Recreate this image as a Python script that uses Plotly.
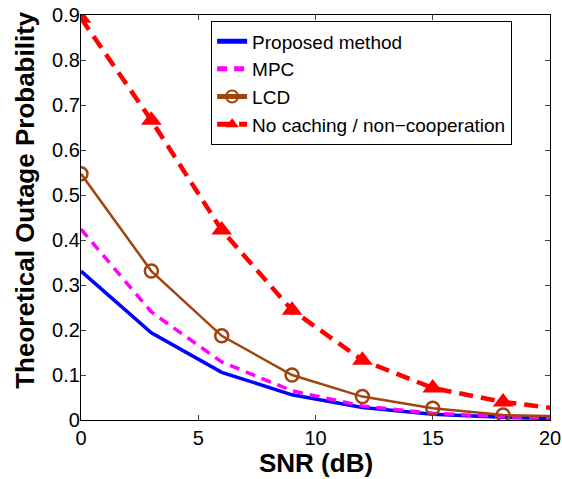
import plotly.graph_objects as go

snr = [0, 3, 6, 9, 12, 15, 18, 21]
proposed = [0.331, 0.194, 0.106, 0.056, 0.028, 0.013, 0.006, 0.002]
mpc = [0.424, 0.240, 0.129, 0.065, 0.031, 0.015, 0.007, 0.003]
lcd = [0.547, 0.331, 0.187, 0.100, 0.052, 0.026, 0.011, 0.008]
nocache = [0.893, 0.666, 0.422, 0.244, 0.133, 0.071, 0.040, 0.021]

x_ticks = [0, 5, 10, 15, 20]
y_ticks = [0, 0.1, 0.2, 0.3, 0.4, 0.5, 0.6, 0.7, 0.8, 0.9]
y_tick_text = ["0", "0.1", "0.2", "0.3", "0.4", "0.5", "0.6", "0.7", "0.8", "0.9"]

BLUE = "#0000FF"
MAG = "#FF00FF"
BROWN = "#A0450F"
RED = "#FF0000"
FONT = "Liberation Sans, Arial, Helvetica, sans-serif"

fig = go.Figure()
fig.add_trace(go.Scatter(x=snr, y=proposed, mode="lines", name="Proposed method",
                         line=dict(color=BLUE, width=3.5)))
fig.add_trace(go.Scatter(x=snr, y=mpc, mode="lines", name="MPC",
                         line=dict(color=MAG, width=3.5, dash="10px,7px")))
fig.add_trace(go.Scatter(x=snr, y=lcd, mode="lines+markers", name="LCD",
                         line=dict(color=BROWN, width=2.5),
                         marker=dict(symbol="circle-open", size=13, color=BROWN,
                                     line=dict(width=2.5, color=BROWN))))
fig.add_trace(go.Scatter(x=snr, y=nocache, mode="lines+markers",
                         name="No caching / non\u2212cooperation",
                         line=dict(color=RED, width=4.5, dash="14px,8px"),
                         marker=dict(symbol="triangle-up", size=18, color=RED)))

fig.update_layout(
    width=562, height=479,
    margin=dict(l=81, r=12, t=15, b=59, autoexpand=False),
    paper_bgcolor="white", plot_bgcolor="white",
    font=dict(family=FONT, size=20, color="black"),
    showlegend=True,
    legend=dict(x=0.277, y=0.985, xanchor="left", yanchor="top",
                bgcolor="white", bordercolor="black", borderwidth=1.2,
                font=dict(size=19), tracegroupgap=0, itemsizing="constant"),
    annotations=[
        dict(text="<b>SNR (dB)</b>", xref="paper", yref="paper", x=0.5, y=-0.106,
             xanchor="center", yanchor="middle", showarrow=False,
             font=dict(size=26)),
        dict(text="<b>Theoretical Outage Probability</b>", xref="paper", yref="paper",
             x=-0.12, y=0.543, xanchor="center", yanchor="middle", textangle=-90,
             showarrow=False, font=dict(size=26)),
    ],
)
fig.update_xaxes(range=[0, 20], tickvals=x_ticks, ticks="inside", ticklen=5,
                 showline=True, linecolor="black", linewidth=1.3, mirror="ticks",
                 showgrid=False, zeroline=False, automargin=False)
fig.update_yaxes(range=[0, 0.9], tickvals=y_ticks, ticktext=y_tick_text,
                 ticks="inside", ticklen=5, ticklabelstandoff=-4,
                 showline=True, linecolor="black", linewidth=1.3, mirror="ticks",
                 showgrid=False, zeroline=False, automargin=False)

fig.write_html("out.html", config={"displayModeBar": False},
               post_script="document.body.style.margin='0';document.body.style.overflow='hidden';")
